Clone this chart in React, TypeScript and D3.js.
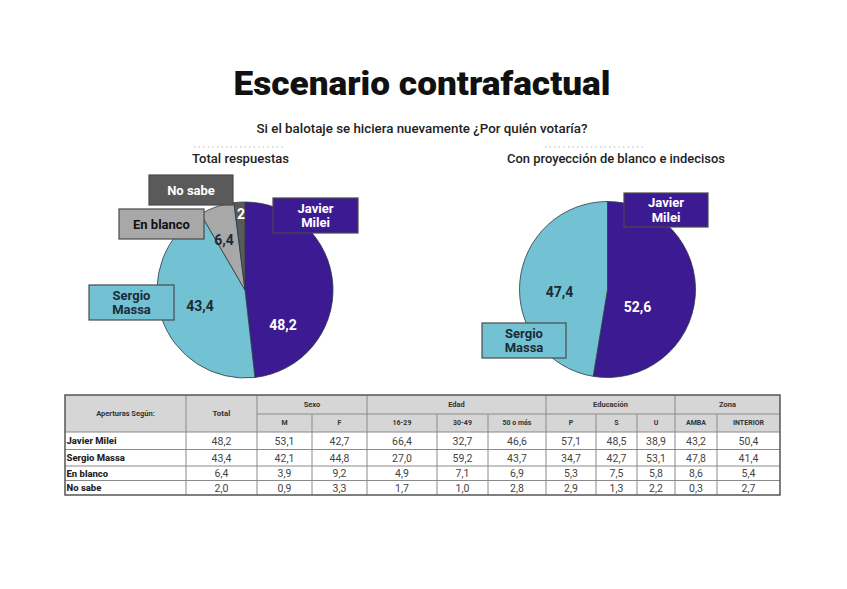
import React from "react";
import * as d3 from "d3";

// ---- Data ----
const categories = ["Javier Milei", "Sergio Massa", "En blanco", "No sabe"];
const totalValues = [48.2, 43.4, 6.4, 2.0];
const projCategories = ["Javier Milei", "Sergio Massa"];
const projValues = [52.6, 47.4];

const groupHeaders = ["Sexo", "Edad", "Educación", "Zona"];
const groupSpans = [2, 3, 3, 2];
const subHeaders = ["M", "F", "16-29", "30-49", "50 o más", "P", "S", "U", "AMBA", "INTERIOR"];
const rowMilei = [48.2, 53.1, 42.7, 66.4, 32.7, 46.6, 57.1, 48.5, 38.9, 43.2, 50.4];
const rowMassa = [43.4, 42.1, 44.8, 27.0, 59.2, 43.7, 34.7, 42.7, 53.1, 47.8, 41.4];
const rowBlanco = [6.4, 3.9, 9.2, 4.9, 7.1, 6.9, 5.3, 7.5, 5.8, 8.6, 5.4];
const rowNoSabe = [2.0, 0.9, 3.3, 1.7, 1.0, 2.8, 2.9, 1.3, 2.2, 0.3, 2.7];
const tableRows = [rowMilei, rowMassa, rowBlanco, rowNoSabe];

// ---- Styles ----
const colors: Record<string, string> = {
  "Javier Milei": "#3c1a92",
  "Sergio Massa": "#72c2d4",
  "En blanco": "#a8a8a8",
  "No sabe": "#5a5a5a",
};
const boxText: Record<string, string> = {
  "Javier Milei": "#ffffff",
  "Sergio Massa": "#1c2b36",
  "En blanco": "#111111",
  "No sabe": "#ffffff",
};
const FONT = "Roboto, 'Open Sans', sans-serif";

const loc = d3.formatLocale({ decimal: ",", thousands: ".", grouping: [3], currency: ["$", ""] });
const fmtPie = loc.format(".1~f");
const fmtTab = loc.format(".1f");

type Box = { x: number; y: number; w: number; h: number };

function Pie({ cx, cy, r, cats, vals, labelOffsets, boxes }: {
  cx: number; cy: number; r: number; cats: string[]; vals: number[];
  labelOffsets: [number, number][]; boxes: Box[];
}) {
  const pie = d3.pie<number>().sort(null).value((d) => d);
  const arcs = pie(vals);
  const arc = d3.arc<d3.PieArcDatum<number>>().innerRadius(0).outerRadius(r);
  return (
    <g>
      <g transform={`translate(${cx},${cy})`}>
        {arcs.map((a, i) => (
          <path key={i} d={arc(a) || ""} fill={colors[cats[i]]} stroke="#2a3a44" strokeWidth={0.8} />
        ))}
        {arcs.map((a, i) => (
          <text key={"t" + i} x={labelOffsets[i][0]} y={labelOffsets[i][1]} textAnchor="middle"
            dominantBaseline="central" fontFamily={FONT} fontWeight={700} fontSize={14}
            fill={cats[i] === "Javier Milei" || cats[i] === "No sabe" ? "#ffffff" : "#1c2b36"}>
            {fmtPie(vals[i])}
          </text>
        ))}
      </g>
      {boxes.map((b, i) => {
        const name = cats[i];
        const words = name === "Javier Milei" || name === "Sergio Massa" ? name.split(" ") : [name];
        return (
          <g key={"b" + i}>
            <rect x={b.x} y={b.y} width={b.w} height={b.h} fill={colors[name]} stroke="#4a4a4a" strokeWidth={1.2} />
            {words.map((w, j) => (
              <text key={j} x={b.x + b.w / 2} y={b.y + b.h / 2 + (j - (words.length - 1) / 2) * 14.5}
                textAnchor="middle" dominantBaseline="central" fontFamily={FONT} fontWeight={700}
                fontSize={13} fill={boxText[name]}>{w}</text>
            ))}
          </g>
        );
      })}
    </g>
  );
}

export default function App() {
  const W = 847, H = 589;
  const colEdges = [65, 186, 257, 312, 367, 437, 488, 546, 596, 637, 675, 717, 780];
  const rowEdges = [395, 414, 432, 449.5, 466, 480.5, 495];
  const hdrFill = "#d6d6d6";
  const lineC = "#8a8a8a";

  const groupCells: { x0: number; x1: number; label: string }[] = [];
  let ci = 2;
  groupHeaders.forEach((g, i) => {
    groupCells.push({ x0: colEdges[ci], x1: colEdges[ci + groupSpans[i]], label: g });
    ci += groupSpans[i];
  });

  return (
    <div style={{ position: "fixed", left: 0, top: 0, width: W, height: H, background: "#fff" }}>
      <svg width={W} height={H} style={{ display: "block" }}>
        <rect width={W} height={H} fill="#ffffff" />
        <text x={422} y={95} textAnchor="middle" fontFamily={FONT} fontWeight={900} fontSize={33}
          fill="#111" textLength={377} lengthAdjust="spacingAndGlyphs">Escenario contrafactual</text>
        <text x={422} y={133} textAnchor="middle" fontFamily={FONT} fontWeight={500} fontSize={12}
          fill="#222" textLength={331} lengthAdjust="spacingAndGlyphs">Si el balotaje se hiciera nuevamente ¿Por quién votaría?</text>

        <line x1={194} x2={284} y1={147} y2={147} stroke="#aaa" strokeWidth={1} strokeDasharray="1.2,3.4" />
        <line x1={545} x2={646} y1={147} y2={147} stroke="#aaa" strokeWidth={1} strokeDasharray="1.2,3.4" />
        <text x={240.5} y={163} textAnchor="middle" fontFamily={FONT} fontWeight={500} fontSize={12.5}
          fill="#222" textLength={97} lengthAdjust="spacingAndGlyphs">Total respuestas</text>
        <text x={616} y={163} textAnchor="middle" fontFamily={FONT} fontWeight={500} fontSize={12.5}
          fill="#222" textLength={218} lengthAdjust="spacingAndGlyphs">Con proyección de blanco e indecisos</text>

        <Pie cx={245} cy={290} r={88} cats={categories} vals={totalValues}
          labelOffsets={[[38, 35], [-45, 16], [-21, -50], [-4, -76]]}
          boxes={[
            { x: 273, y: 198, w: 85, h: 35 },
            { x: 89, y: 285, w: 85, h: 35 },
            { x: 119, y: 209, w: 85, h: 30 },
            { x: 149, y: 175, w: 84, h: 30 },
          ]} />
        <Pie cx={607.5} cy={289.5} r={88} cats={projCategories} vals={projValues}
          labelOffsets={[[30, 17], [-48, 2]]}
          boxes={[
            { x: 624, y: 193, w: 84, h: 34 },
            { x: 482, y: 323, w: 84, h: 35 },
          ]} />

        {/* Table */}
        <g fontFamily={FONT}>
          <rect x={colEdges[0]} y={rowEdges[0]} width={colEdges[12] - colEdges[0]} height={rowEdges[2] - rowEdges[0]} fill={hdrFill} />
          <rect x={colEdges[0]} y={rowEdges[2]} width={colEdges[12] - colEdges[0]} height={rowEdges[6] - rowEdges[2]} fill="#fff" />
          {groupCells.map((g, i) => (
            <line key={"gl" + i} x1={g.x0} x2={g.x1} y1={rowEdges[1]} y2={rowEdges[1]} stroke={lineC} strokeWidth={1} />
          ))}
          {rowEdges.slice(2, 6).map((y, i) => (
            <line key={"hl" + i} x1={colEdges[0]} x2={colEdges[12]} y1={y} y2={y} stroke={lineC} strokeWidth={1} />
          ))}
          {colEdges.slice(1, 12).map((x, i) => {
            const isGroupEdge = [186, 257, 367, 546, 675].includes(x);
            return (
              <line key={"vl" + i} x1={x} x2={x} y1={isGroupEdge ? rowEdges[0] : rowEdges[1]} y2={rowEdges[6]}
                stroke={lineC} strokeWidth={1} />
            );
          })}
          <rect x={colEdges[0]} y={rowEdges[0]} width={colEdges[12] - colEdges[0]} height={rowEdges[6] - rowEdges[0]}
            fill="none" stroke="#555" strokeWidth={1.5} />
          <text x={(colEdges[0] + colEdges[1]) / 2} y={(rowEdges[0] + rowEdges[2]) / 2} textAnchor="middle"
            dominantBaseline="central" fontSize={7.5} fontWeight={700} fill="#333">Aperturas Según:</text>
          <text x={(colEdges[1] + colEdges[2]) / 2} y={(rowEdges[0] + rowEdges[2]) / 2} textAnchor="middle"
            dominantBaseline="central" fontSize={8} fontWeight={700} fill="#333">Total</text>
          {groupCells.map((g, i) => (
            <text key={"gh" + i} x={(g.x0 + g.x1) / 2} y={(rowEdges[0] + rowEdges[1]) / 2} textAnchor="middle"
              dominantBaseline="central" fontSize={7.5} fontWeight={700} fill="#333">{g.label}</text>
          ))}
          {subHeaders.map((s, i) => (
            <text key={"sh" + i} x={(colEdges[i + 2] + colEdges[i + 3]) / 2} y={(rowEdges[1] + rowEdges[2]) / 2}
              textAnchor="middle" dominantBaseline="central" fontSize={7} fontWeight={700} fill="#333">{s}</text>
          ))}
          {tableRows.map((row, r) => (
            <g key={"r" + r}>
              <text x={colEdges[0] + 1.5} y={(rowEdges[r + 2] + rowEdges[r + 3]) / 2} dominantBaseline="central"
                fontSize={9.5} fontWeight={800} fill="#222">{categories[r]}</text>
              {row.map((v, c) => (
                <text key={c} x={(colEdges[c + 1] + colEdges[c + 2]) / 2} y={(rowEdges[r + 2] + rowEdges[r + 3]) / 2 + 0.5}
                  textAnchor="middle" dominantBaseline="central" fontSize={10.5} fill="#444">{fmtTab(v)}</text>
              ))}
            </g>
          ))}
        </g>
      </svg>
    </div>
  );
}
